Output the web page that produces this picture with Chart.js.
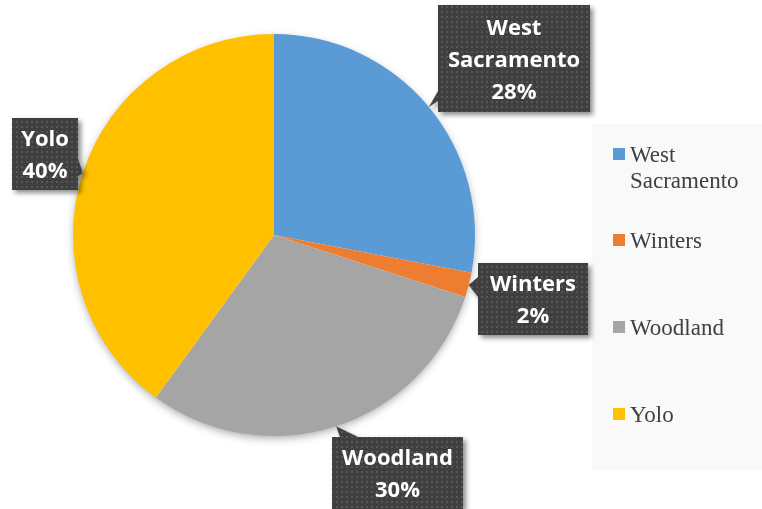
<!DOCTYPE html>
<html>
<head>
<meta charset="utf-8">
<script src="https://cdn.jsdelivr.net/npm/chart.js@4.4.1/dist/chart.umd.min.js"></script>
<style>
html,body{margin:0;padding:0;background:#fff;}
#wrap{width:762px;height:509px;position:relative;}
</style>
</head>
<body>
<div id="wrap"><canvas id="c" width="762" height="509"></canvas></div>
<script>
const categories = ['West Sacramento', 'Winters', 'Woodland', 'Yolo'];
const shares = [28, 2, 30, 40];
const sliceColors = ['#5B9BD5', '#ED7D31', '#A5A5A5', '#FFC000'];
const legendLines = [['West', 'Sacramento'], ['Winters'], ['Woodland'], ['Yolo']];
const calloutLines = [['West', 'Sacramento'], ['Winters'], ['Woodland'], ['Yolo']];

// layout of callout boxes (position/style only)
const calloutBoxes = [
  {x: 438, y: 5, w: 152, h: 107, side: 'left', b0: 91, b1: 101},
  {x: 478, y: 263, w: 110, h: 72, side: 'left', b0: 277, b1: 297},
  {x: 332, y: 437, w: 131, h: 72, side: 'top', b0: 340, b1: 358},
  {x: 12, y: 118, w: 66, h: 72, side: 'right', b0: 159, b1: 176}
];
const legendLayout = {x: 592, y: 124, w: 170, h: 346, markerX: 613, textX: 630, rows: [162, 248, 335, 422], lineGap: 26, size: 12};

function makePattern(ctx) {
  const p = document.createElement('canvas');
  p.width = 5; p.height = 5;
  const pc = p.getContext('2d');
  pc.fillStyle = '#3f3f3f';
  pc.fillRect(0, 0, 5, 5);
  pc.fillStyle = '#575757';
  pc.fillRect(1, 1, 2, 2);
  return ctx.createPattern(p, 'repeat');
}

const shadowPlugin = {
  id: 'pieShadow',
  beforeDatasetsDraw(chart) {
    const arc = chart.getDatasetMeta(0).data[0];
    if (!arc) return;
    const ctx = chart.ctx;
    ctx.save();
    ctx.shadowColor = 'rgba(0,0,0,0.35)';
    ctx.shadowBlur = 9;
    ctx.shadowOffsetX = 0;
    ctx.shadowOffsetY = 3;
    ctx.beginPath();
    ctx.arc(arc.x, arc.y, arc.outerRadius - 1, 0, Math.PI * 2);
    ctx.fillStyle = '#ffffff';
    ctx.fill();
    ctx.restore();
  }
};

const legendPlugin = {
  id: 'sideLegend',
  beforeDraw(chart) {
    const ctx = chart.ctx;
    const L = legendLayout;
    ctx.save();
    ctx.fillStyle = '#f9f9f9';
    ctx.fillRect(L.x, L.y, L.w, L.h);
    ctx.restore();
  },
  afterDraw(chart) {
    const ctx = chart.ctx;
    const L = legendLayout;
    const labels = chart.data.labels;
    const cols = chart.data.datasets[0].backgroundColor;
    ctx.save();
    ctx.font = '23px "Liberation Serif", "Times New Roman", serif';
    ctx.textBaseline = 'alphabetic';
    ctx.textAlign = 'left';
    labels.forEach((lab, i) => {
      const base = L.rows[i];
      ctx.fillStyle = cols[i];
      ctx.fillRect(L.markerX, base - 14, L.size, L.size);
      ctx.fillStyle = '#404040';
      legendLines[i].forEach((t, j) => ctx.fillText(t, L.textX, base + j * L.lineGap));
    });
    ctx.restore();
  }
};

const calloutPlugin = {
  id: 'callouts',
  afterDatasetsDraw(chart) {
    const ctx = chart.ctx;
    const meta = chart.getDatasetMeta(0);
    const data = chart.data.datasets[0].data;
    const total = data.reduce((a, b) => a + b, 0);
    const pat = makePattern(ctx);
    meta.data.forEach((arc, i) => {
      const B = calloutBoxes[i];
      const mid = (arc.startAngle + arc.endAngle) / 2;
      const tx = arc.x + Math.cos(mid) * arc.outerRadius;
      const ty = arc.y + Math.sin(mid) * arc.outerRadius;
      ctx.save();
      ctx.beginPath();
      const x0 = B.x, y0 = B.y, x1 = B.x + B.w, y1 = B.y + B.h;
      ctx.moveTo(x0, y0);
      if (B.side === 'top') { ctx.lineTo(B.b0, y0); ctx.lineTo(tx, ty); ctx.lineTo(B.b1, y0); }
      ctx.lineTo(x1, y0);
      if (B.side === 'right') { ctx.lineTo(x1, B.b0); ctx.lineTo(tx, ty); ctx.lineTo(x1, B.b1); }
      ctx.lineTo(x1, y1);
      ctx.lineTo(x0, y1);
      if (B.side === 'left') { ctx.lineTo(x0, B.b1); ctx.lineTo(tx, ty); ctx.lineTo(x0, B.b0); }
      ctx.closePath();
      ctx.shadowColor = 'rgba(0,0,0,0.45)';
      ctx.shadowBlur = 5;
      ctx.shadowOffsetX = 3;
      ctx.shadowOffsetY = 3;
      ctx.fillStyle = pat;
      ctx.fill();
      ctx.restore();

      const lines = calloutLines[i].concat([Math.round(data[i] / total * 100) + '%']);
      ctx.save();
      ctx.font = 'bold 22px "Open Sans", sans-serif';
      ctx.fillStyle = '#ffffff';
      ctx.textAlign = 'center';
      ctx.textBaseline = 'alphabetic';
      const cx = B.x + B.w / 2, cy = B.y + B.h / 2;
      lines.forEach((t, j) => {
        const off = (j - (lines.length - 1) / 2) * 32;
        ctx.fillText(t, cx, cy + 8 + off);
      });
      ctx.restore();
    });
  }
};

new Chart(document.getElementById('c'), {
  type: 'pie',
  data: {
    labels: categories,
    datasets: [{
      data: shares,
      backgroundColor: sliceColors,
      borderWidth: 0
    }]
  },
  options: {
    responsive: false,
    animation: false,
    layout: {padding: {top: 34, bottom: 73, left: 73, right: 287}},
    plugins: {legend: {display: false}, tooltip: {enabled: false}}
  },
  plugins: [legendPlugin, shadowPlugin, calloutPlugin]
});
</script>
</body>
</html>
